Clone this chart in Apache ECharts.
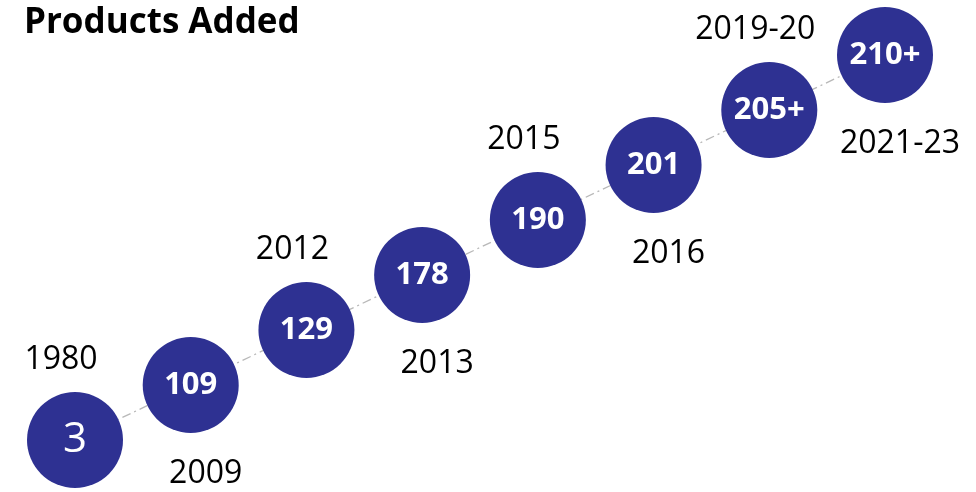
<!DOCTYPE html>
<html>
<head>
    <meta charset="utf-8">
    <title>Products Added</title>
    <script src="https://cdn.jsdelivr.net/npm/echarts@6/dist/echarts.min.js"></script>
    <style>
        html, body { margin: 0; padding: 0; background: #fff; }
    </style>
</head>
<body>
    <div id="main" style="width: 976px;height:492px;"></div>
    <script type="text/javascript">
        // counts shown in the circles, and the period each belongs to
        var counts = ['3', '109', '129', '178', '190', '201', '205+', '210+'];
        var periods = ['1980', '2009', '2012', '2013', '2015', '2016', '2019-20', '2021-23'];

        var font = 'Open Sans';
        var navy = '#2e3192';
        var last = counts.length - 1;

        var circleData = counts.map(function (c, i) {
            var item = { value: [i, i], name: c };
            if (i === 0) {
                // first one is set in a plain, larger face
                item.label = { fontWeight: 'normal', fontSize: 42 };
            }
            return item;
        });

        var yearData = periods.map(function (p, i) {
            var above = i % 2 === 0;
            return {
                value: [i, i],
                name: p,
                label: { offset: above ? [-14, -80] : [15, 89] }
            };
        });

        var myChart = echarts.init(document.getElementById('main'));
        var option = {
            animation: false,
            title: {
                text: 'Products Added',
                left: 24,
                top: 6,
                padding: 0,
                textStyle: { fontFamily: font, fontWeight: 'bold', fontSize: 35, color: '#000' }
            },
            grid: { left: 75, right: 91, top: 55, bottom: 52 },
            xAxis: { type: 'value', min: 0, max: last, show: false },
            yAxis: { type: 'value', min: 0, max: last, show: false },
            series: [{
                // dash-dot trend line behind the circles
                type: 'line',
                clip: false,
                symbol: 'none',
                silent: true,
                data: [[-0.48, -0.48], [last, last]],
                lineStyle: { color: '#b8b8b8', width: 1.3, type: [9, 4, 2, 4] },
                z: 1
            }, {
                type: 'scatter',
                clip: false,
                symbolSize: 96,
                itemStyle: { color: navy, opacity: 1 },
                label: {
                    show: true,
                    position: 'inside',
                    formatter: '{b}',
                    color: '#fff',
                    fontFamily: font,
                    fontWeight: 'bold',
                    fontSize: 31
                },
                data: circleData,
                z: 2
            }, {
                type: 'scatter',
                clip: false,
                symbolSize: 0,
                itemStyle: { opacity: 1 },
                label: {
                    show: true,
                    position: 'inside',
                    formatter: '{b}',
                    color: '#000',
                    fontFamily: font,
                    fontSize: 32
                },
                data: yearData,
                z: 3
            }]
        };
        myChart.setOption(option);
    </script>
</body>
</html>
